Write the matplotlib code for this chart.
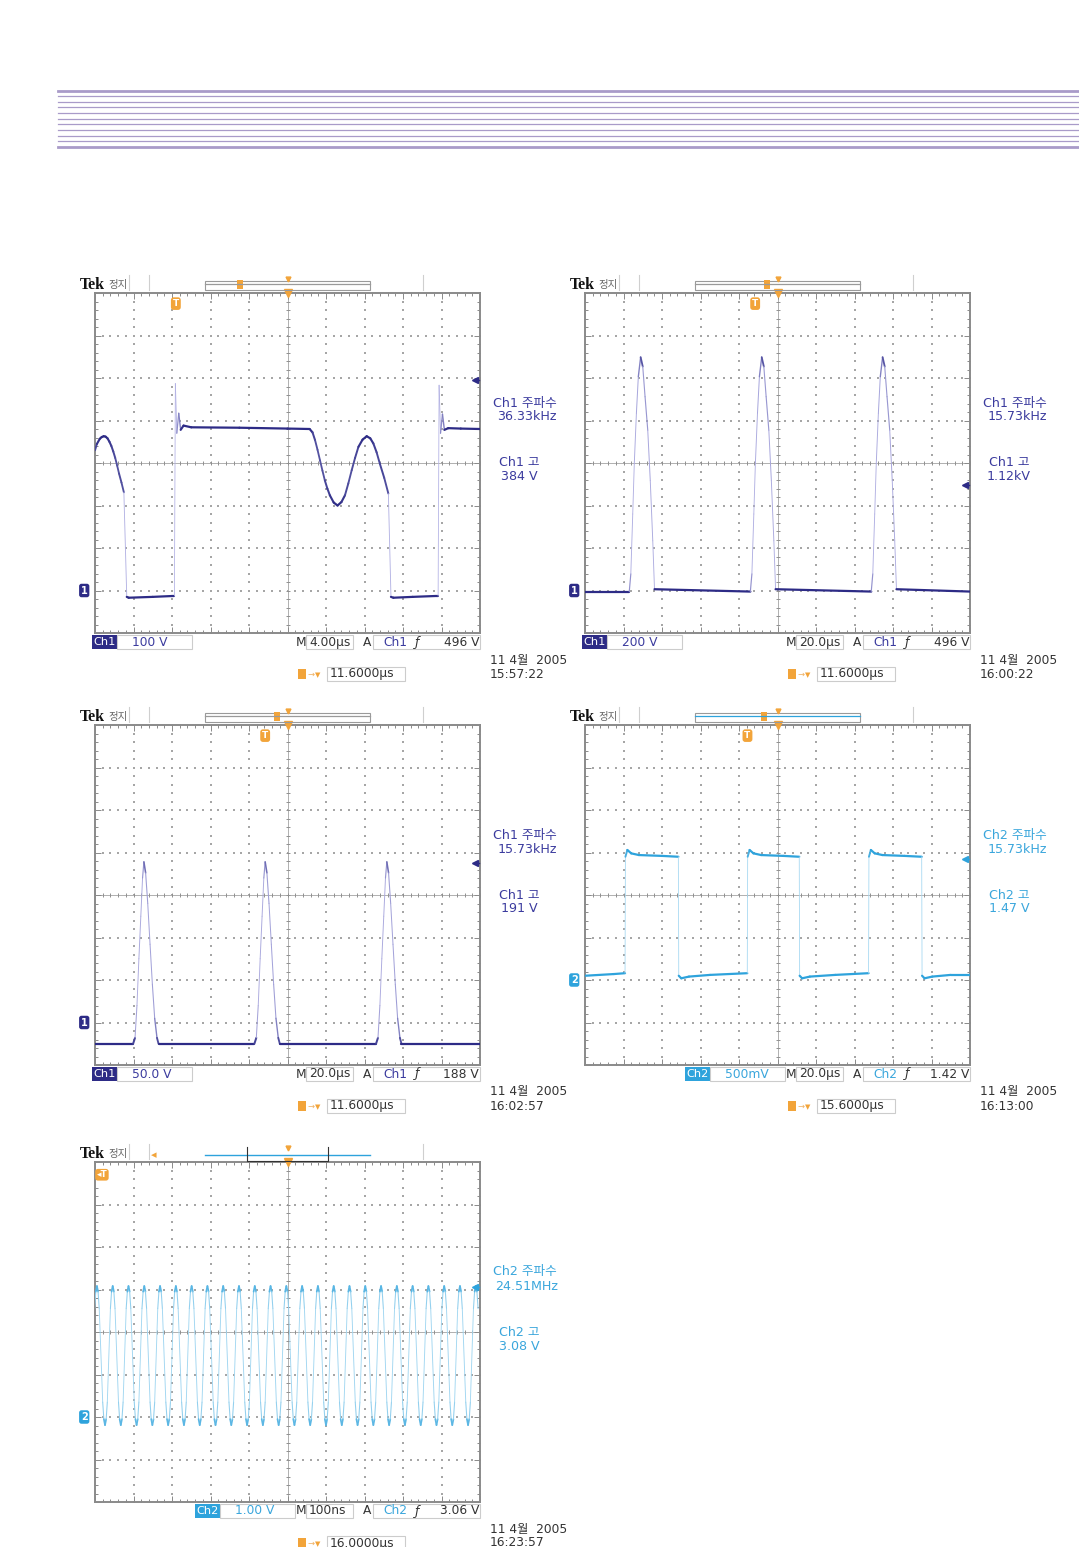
import numpy as np
import matplotlib
matplotlib.use('Agg')
import matplotlib.pyplot as plt
from matplotlib.collections import LineCollection
from matplotlib.patches import Rectangle
from matplotlib.lines import Line2D
import matplotlib.transforms as mtransforms

W, H = 1079, 1547
plt.rcParams['font.family'] = ['DejaVu Sans', 'Noto Sans CJK KR']

# ------------------------------------------------------------------ data
# Panel 1 : Ch1, 100 V/div, 4 us/div (time in us, voltage in V)
p1_t = [-20.0, -19.8, -19.5, -19.3, -19.1, -18.9, -18.7, -18.5, -18.3, -18.1, -17.9,
        -17.7, -17.5, -17.25, -17.0, -16.7, -16.5,
        -14.0, -12.0, -11.75, -11.65, -11.5, -11.3, -11.1, -10.8, -10.0, -5.0, 0.0,
        2.3, 2.6, 2.86, 3.12, 3.38, 3.63, 3.88, 4.14, 4.4, 4.8, 5.2, 5.6, 5.97, 6.32,
        6.67, 7.02, 7.37, 7.8, 8.23, 8.6, 8.92, 9.26, 9.6, 10.05, 10.48,
        10.75, 11.0, 13.0, 15.3, 15.65, 15.75, 15.9, 16.1, 16.3, 16.7, 18.0, 20.0]
p1_v = [330, 345, 357, 361, 363, 362, 358, 350, 340, 327, 312,
        294, 275, 254, 231, -15, -17,
        -15, -13, -13, 487, 370, 417, 378, 388, 384, 383, 381,
        380, 372, 354, 331, 306, 282, 259, 240, 224, 207, 200, 208, 224, 252,
        283, 312, 338, 355, 363, 358, 346, 325, 298, 265, 228,
        -15, -17, -15, -13, -13, 483, 370, 415, 378, 382, 381, 380]

# Panel 2 : Ch1, 200 V/div, 20 us/div  (pulse shape relative to its peak)
p2_peaks = [-71.1, -8.2, 54.6]
p2_base = -5
p2_dt = [-5.9, -5.1, -4.1, -3.3, -2.2, -1.2, 0.0, 1.1, 2.3, 3.7, 5.0, 6.3, 7.2]
p2_dv = [-5, 78, 360, 596, 834, 1006, 1098, 1054, 912, 754, 518, 234, 6]

# Panel 3 : Ch1, 50 V/div, 20 us/div
p3_peaks = [-74.6, -11.6, 51.6]
p3_base = -25
p3_dt = [-5.6, -4.6, -3.6, -2.6, -1.6, -0.7, 0.0, 0.9, 2.0, 3.2, 4.4, 5.6, 6.8, 7.6]
p3_dv = [-25, -18, 20, 75, 125, 170, 189, 176, 140, 92, 45, 5, -18, -25]

# Panel 4 : Ch2, 500 mV/div, 20 us/div
p4_t = [-100, -85, -79.2, -79.0, -78.0, -76.0, -72.0, -60.0, -51.5,
        -51.3, -50.0, -46.0, -35.0, -15.7,
        -15.5, -14.5, -12.5, -8.5, 3.0, 11.3,
        11.5, 12.8, 16.8, 30.0, 47.3,
        47.5, 48.5, 50.5, 54.5, 66.0, 74.9,
        75.1, 76.4, 80.4, 90.0, 100]
p4_v = [0.05, 0.07, 0.08, 1.45, 1.53, 1.49, 1.47, 1.46, 1.45,
        0.05, 0.02, 0.04, 0.06, 0.08,
        1.45, 1.53, 1.49, 1.47, 1.46, 1.45,
        0.05, 0.02, 0.04, 0.06, 0.08,
        1.45, 1.53, 1.49, 1.47, 1.46, 1.45,
        0.05, 0.02, 0.04, 0.06, 0.06]

# Panel 5 : Ch2, 1.00 V/div, 100 ns/div (time in ns)
p5_peaks = [-495, -454, -413, -372, -331, -290, -249, -208, -167, -126, -85, -44, -3,
            38, 79, 120, 161, 202, 243, 284, 325, 366, 407, 448, 489]
p5_troughs = [-474, -433, -392, -351, -310, -269, -228, -187, -146, -105, -64, -23,
              18, 59, 100, 141, 182, 223, 264, 305, 346, 387, 428, 469]
p5_peak_dt = [-6, -3, 0, 3, 6]
p5_peak_v = [2.55, 2.95, 3.08, 2.95, 2.55]
p5_trough_v = [0.35, -0.05, -0.19, -0.05, 0.35]

# readouts
ch_names = ['Ch1', 'Ch1', 'Ch1', 'Ch2', 'Ch2']
v_per_div = [100, 200, 50, 0.5, 1.0]
t_per_div = [4.0, 20.0, 20.0, 20.0, 100.0]
ground_div = [-3, -3, -3, -2, -2]
trig_level = [496, 496, 188, 1.42, 3.06]
trig_delay = [11.6, 11.6, 11.6, 15.6, 16000]   # in panel time units
scale_txt = ['100 V', '200 V', '50.0 V', '500mV', '1.00 V']
tb_txt = ['4.00µs', '20.0µs', '20.0µs', '20.0µs', '100ns']
trig_txt = ['496 V', '496 V', '188 V', '1.42 V', '3.06 V']
delay_txt = ['11.6000µs', '11.6000µs', '11.6000µs', '15.6000µs', '16.0000µs']
freq_txt = ['36.33kHz', '15.73kHz', '15.73kHz', '15.73kHz', '24.51MHz']
high_txt = ['384 V', '1.12kV', '191 V', '1.47 V', '3.08 V']
date_txt = ['11 4월  2005'] * 5
time_txt = ['15:57:22', '16:00:22', '16:02:57', '16:13:00', '16:23:57']

# ------------------------------------------------------------------ build traces
def pulses(t0, t1, base, peaks, dt, dv):
    t, v = [t0], [base]
    for p in peaks:
        t += [p + d for d in dt]
        v += list(dv)
    t.append(t1); v.append(base)
    return np.array(t), np.array(v)

def sine_like():
    pts = []
    for p in p5_peaks:
        pts += [(p + d, val) for d, val in zip(p5_peak_dt, p5_peak_v)]
    for q in p5_troughs:
        pts += [(q + d, val) for d, val in zip(p5_peak_dt, p5_trough_v)]
    pts.sort()
    a = np.array(pts)
    return a[:, 0], a[:, 1]

traces = [
    (np.array(p1_t, float), np.array(p1_v, float)),
    pulses(-100, 100, p2_base, p2_peaks, p2_dt, p2_dv),
    pulses(-100, 100, p3_base, p3_peaks, p3_dt, p3_dv),
    (np.array(p4_t, float), np.array(p4_v, float)),
    sine_like(),
]

# ------------------------------------------------------------------ figure
fig = plt.figure(figsize=(W / 100, H / 100), dpi=100)
fig.patch.set_facecolor('white')

def ftext(x, y, s, **kw):
    kw.setdefault('va', 'center')
    fig.text(x / W, 1 - y / H, s, **kw)

def frect(x0, y0, x1, y1, **kw):
    fig.add_artist(Rectangle((x0 / W, 1 - y1 / H), (x1 - x0) / W, (y1 - y0) / H,
                             transform=fig.transFigure, **kw))

def fline(xs, ys, **kw):
    fig.add_artist(Line2D([x / W for x in xs], [1 - y / H for y in ys],
                          transform=fig.transFigure, **kw))

# header stripes
stripe_y = [90.7, 96, 102, 107.3, 113, 119, 124, 130.3, 136, 141, 146.7]
for i, yy in enumerate(stripe_y):
    lw = 2.0 if i in (0, len(stripe_y) - 1) else 0.9
    fline([58, 1079], [yy, yy], color='#a99bc9', lw=lw)

NAVY = '#2d2b86'
NAVY_L = '#b6b5e6'
CYAN = '#2ea3dc'
CYAN_L = '#a8d9f2'
ORANGE = '#f2a43a'
CH_TXT = {'Ch1': '#3b3b9e', 'Ch2': '#3aa6dc'}
CH_BG = {'Ch1': '#2d2b86', 'Ch2': '#2ea3dc'}
FS = 8.8

panel_pos = [(95, 293), (585, 293), (95, 725), (585, 725), (95, 1162)]
bar_marker = [240, 767, 277, 764, None]
GW, GH = 385, 340


def draw_trace(ax, t, v, tdiv, vdiv, dark, light, lwmax=1.6, lwmin=0.6, s0=6.0):
    x = t / tdiv
    y = v / vdiv
    dx = np.diff(x)
    dy = np.diff(y)
    slope = np.abs(dy) / np.maximum(np.abs(dx), 1e-9)
    w = 1.0 / (1.0 + (slope / s0) ** 2)
    c0 = np.array(matplotlib.colors.to_rgb(light))
    c1 = np.array(matplotlib.colors.to_rgb(dark))
    cols = c0[None, :] * (1 - w[:, None]) + c1[None, :] * w[:, None]
    lws = lwmin + (lwmax - lwmin) * w
    segs = np.stack([np.column_stack([t[:-1], v[:-1]]), np.column_stack([t[1:], v[1:]])], axis=1)
    lc = LineCollection(segs, colors=cols, linewidths=lws, capstyle='round', joinstyle='round', zorder=5)
    ax.add_collection(lc)


for i in range(5):
    L, T = panel_pos[i]
    B, R = T + GH, L + GW
    tdiv, vdiv, gnd = t_per_div[i], v_per_div[i], ground_div[i]
    ch = ch_names[i]
    dark, light = (NAVY, NAVY_L) if ch == 'Ch1' else (CYAN, CYAN_L)

    ax = fig.add_axes([L / W, 1 - B / H, GW / W, GH / H])
    x0, x1 = -5 * tdiv, 5 * tdiv
    yc = -gnd * vdiv
    y0, y1 = yc - 4 * vdiv, yc + 4 * vdiv
    ax.set_xlim(x0, x1)
    ax.set_ylim(y0, y1)
    ax.set_facecolor('white')

    xmaj = np.arange(-5, 6) * tdiv
    ymaj = yc + np.arange(-4, 5) * vdiv
    xmin_ = np.linspace(x0, x1, 51)
    ymin_ = np.linspace(y0, y1, 41)
    gcol = '#a6a6a6'
    for xv in xmaj[1:-1]:
        if abs(xv) < 1e-9:
            continue
        ax.scatter(np.full_like(ymin_, xv), ymin_, s=1.1, marker='s', color=gcol, lw=0, zorder=1)
    for yv in ymaj[1:-1]:
        if abs(yv - yc) < 1e-9:
            continue
        ax.scatter(xmin_, np.full_like(xmin_, yv), s=1.1, marker='s', color=gcol, lw=0, zorder=1)
    ax.axvline(0, color='#b0b0b0', lw=0.7, zorder=1)
    ax.axhline(yc, color='#b0b0b0', lw=0.7, zorder=1)
    ax.plot(np.zeros_like(ymin_), ymin_, ls='none', marker='_', ms=3.5, mew=0.7, color='#909090', zorder=1)
    ax.plot(xmin_, np.full_like(xmin_, yc), ls='none', marker='|', ms=3.5, mew=0.7, color='#909090', zorder=1)

    ax.set_xticks(xmaj)
    ax.set_yticks(ymaj)
    ax.set_xticks(xmin_, minor=True)
    ax.set_yticks(ymin_, minor=True)
    ax.tick_params(which='both', direction='in', top=True, right=True,
                   labelbottom=False, labelleft=False, color='#8a8a8a', width=0.7)
    ax.tick_params(which='major', length=4)
    ax.tick_params(which='minor', length=2.5)
    for sp in ax.spines.values():
        sp.set_color('#8a8a8a')
        sp.set_linewidth(1.4)

    # trace
    t, v = traces[i]
    draw_trace(ax, t, v, tdiv, vdiv, dark, light)

    # ground marker
    blend = mtransforms.blended_transform_factory(ax.transAxes, ax.transData)
    ax.text(-0.028, 0, str(ch[-1]), transform=blend, ha='center', va='center', fontsize=7,
            color='white', fontweight='bold', clip_on=False, zorder=10,
            bbox=dict(boxstyle='round,pad=0.18,rounding_size=0.25', fc=dark, ec='none'))
    # trigger level arrow
    ax.plot([x1 - 0.13 * tdiv], [trig_level[i]], marker='<', ms=4.5, color=dark, clip_on=False, zorder=6)
    ax.plot([x1 - 0.13 * tdiv, x1 - 0.02 * tdiv], [trig_level[i]] * 2, color=dark, lw=1.0, clip_on=False, zorder=6)
    # trigger position marker
    tp = -trig_delay[i]
    if tp > x0:
        ax.text(tp, y1 - 0.25 * vdiv, 'T', ha='center', va='center', fontsize=6.5, color='white',
                fontweight='bold', zorder=10,
                bbox=dict(boxstyle='round,pad=0.2,rounding_size=0.3', fc=ORANGE, ec='none'))
    else:
        ax.text(x0 + 0.18 * tdiv, y1 - 0.3 * vdiv, '◂T', ha='center', va='center', fontsize=6.5,
                color='white', fontweight='bold', zorder=10,
                bbox=dict(boxstyle='round,pad=0.15,rounding_size=0.3', fc=ORANGE, ec='none'))
    ax.plot([0], [y1], marker='v', ms=6, color=ORANGE, clip_on=False, zorder=11)

    # --- header row above the grid
    ftext(L - 15, T - 8, 'Tek', fontfamily='Liberation Serif', fontweight='bold', fontsize=11.5, color='#111111')
    ftext(L + 13, T - 8, '정지', fontsize=7.5, color='#666666')
    for sx in (L + 34, L + 54, L + 328):
        fline([sx, sx], [T - 18, T - 3], color='#cfcfcf', lw=0.8)
    if i < 4:
        barc = '#9a9a9a' if i != 3 else CYAN
        frect(L + 110, T - 12, L + 275, T - 3, fc='none', ec='#9a9a9a', lw=0.8)
        fline([L + 110, L + 275], [T - 9.5, T - 9.5], color=barc, lw=0.9)
        mx = bar_marker[i]
        frect(mx - 3, T - 13, mx + 3, T - 4, fc=ORANGE, ec='none')
    else:
        fline([L + 110, L + 275], [T - 7, T - 7], color=CYAN, lw=1.0)
        fline([L + 152, L + 152, L + 233, L + 233], [T - 15, T - 1.5, T - 1.5, T - 15], color='#333333', lw=0.8)
        ftext(L + 59, T - 7, '◂', fontsize=8, color=ORANGE, ha='center', fontweight='bold')
    fig.add_artist(Line2D([(L + 193) / W], [1 - (T - 14) / H], marker='v', ms=3.5, color=ORANGE,
                          transform=fig.transFigure, ls='none'))

    # --- right readouts
    ctc = CH_TXT[ch]
    ftext(L + 430, T + 110, f'{ch} 주파수', fontsize=FS + 0.3, color=ctc, ha='center')
    ftext(L + 432, T + 124, freq_txt[i], fontsize=FS + 0.3, color=ctc, ha='center')
    ftext(L + 424, T + 170, f'{ch} 고', fontsize=FS + 0.3, color=ctc, ha='center')
    ftext(L + 424, T + 184, high_txt[i], fontsize=FS + 0.3, color=ctc, ha='center')

    # --- bottom readouts
    yb = B + 9
    cx0 = L - 3 if ch == 'Ch1' else L + 100
    frect(cx0, yb - 7, cx0 + 25, yb + 7, fc=CH_BG[ch], ec='none')
    ftext(cx0 + 12.5, yb, ch, fontsize=8.2, color='white', ha='center')
    frect(cx0 + 25, yb - 7, cx0 + 100, yb + 7, fc='none', ec='#cccccc', lw=0.8)
    ftext(cx0 + 40, yb, scale_txt[i], fontsize=FS, color=ctc)
    ftext(L + 201, yb, 'M', fontsize=FS, color='#333333')
    frect(L + 211, yb - 7, L + 258, yb + 7, fc='none', ec='#cccccc', lw=0.8)
    ftext(L + 214, yb, tb_txt[i], fontsize=FS, color='#333333')
    ftext(L + 268, yb, 'A', fontsize=FS, color='#333333')
    frect(L + 278, yb - 7, R, yb + 7, fc='none', ec='#cccccc', lw=0.8)
    ftext(L + 288, yb, ch, fontsize=FS, color=ctc)
    ftext(L + 320, yb, 'ƒ', fontsize=FS + 0.2, color='#333333', fontstyle='italic')
    ftext(R - 1, yb, trig_txt[i], fontsize=FS, color='#333333', ha='right')

    yr = B + 41
    frect(L + 203, yr - 5, L + 211, yr + 5, fc=ORANGE, ec='none')
    ftext(L + 212, yr, '→', fontsize=6, color='#f0b060')
    ftext(L + 220, yr + 1, '▼', fontsize=5, color=ORANGE)
    frect(L + 232, yr - 7, L + 310, yr + 7, fc='none', ec='#cccccc', lw=0.8)
    ftext(L + 235, yr, delay_txt[i], fontsize=FS, color='#333333')

    ftext(L + 395, B + 27, date_txt[i], fontsize=FS, color='#333333')
    ftext(L + 395, B + 41, time_txt[i], fontsize=FS, color='#333333')

fig.savefig('out.png', dpi=100)
